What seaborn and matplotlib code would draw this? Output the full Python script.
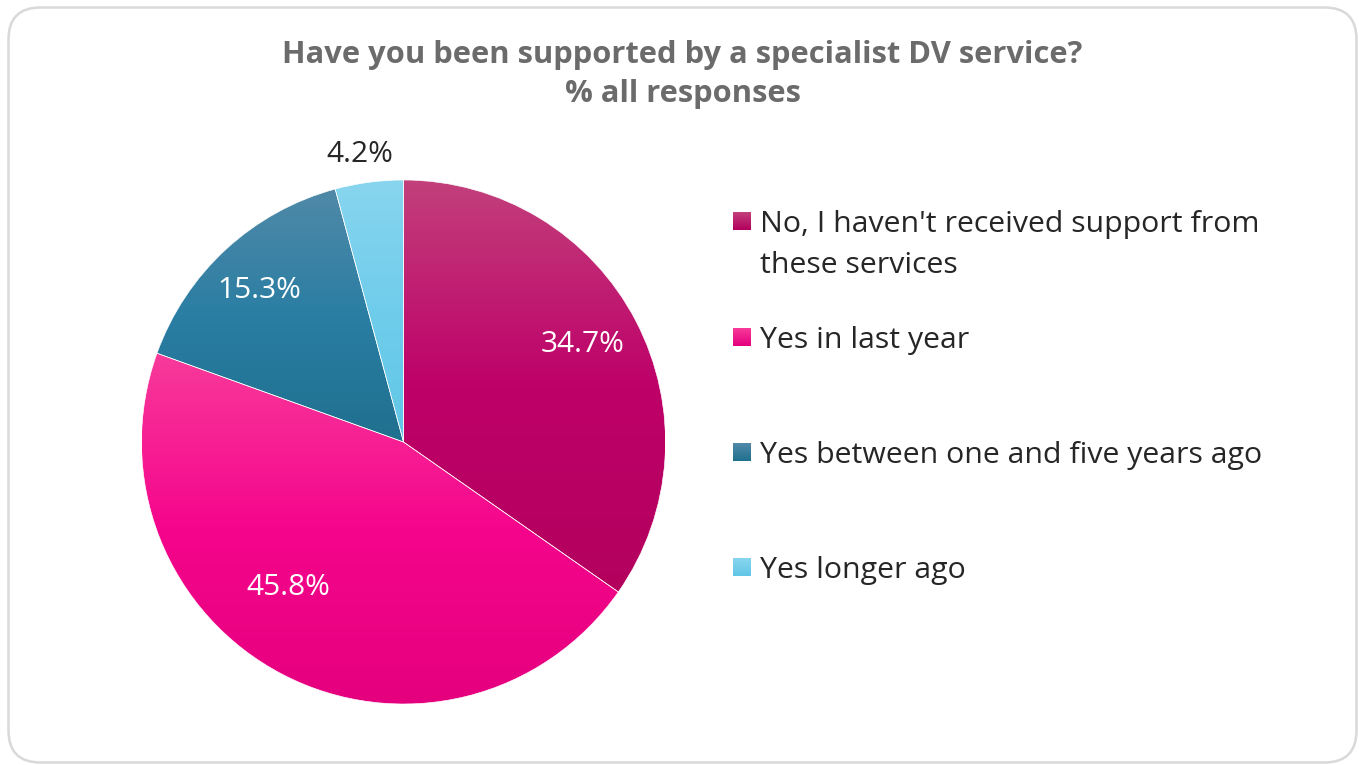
import numpy as np
import matplotlib
matplotlib.use("Agg")
import matplotlib.pyplot as plt
import seaborn as sns
from matplotlib.colors import LinearSegmentedColormap
from matplotlib.patches import FancyBboxPatch

# ---- data -------------------------------------------------------------
categories = [
    "No, I haven't received support from\nthese services",
    "Yes in last year",
    "Yes between one and five years ago",
    "Yes longer ago",
]
shares = [34.7, 45.8, 15.3, 4.2]
value_labels = ["34.7%", "45.8%", "15.3%", "4.2%"]
title_lines = ["Have you been supported by a specialist DV service?", "% all responses"]

# ---- styling ----------------------------------------------------------
base_colors = ["#BE0069", "#F5058C", "#2A7EA3", "#6FCDEB"]
top_colors = ["#C2407B", "#F83A9A", "#5089A8", "#88D5EF"]
bottom_colors = ["#B3005D", "#E5007E", "#20708F", "#62C6E6"]
label_colors = ["white", "white", "white", "#262626"]
label_radius = [0.78, 0.71, 0.80, 1.11]
label_turn = [1.0, -11.0, 1.0, 1.0]

W, H = 1359, 765
sns.set_theme(style="white")
plt.rcParams["font.family"] = ["Open Sans", "DejaVu Sans"]
palette = sns.color_palette(base_colors)

TITLE_PT, LEGEND_PT, LABEL_PT = 22.25, 21.8, 21.5
CAP = 0.714  # cap height as fraction of the em


def px(pt):
    return pt * 100 / 72.0


fig = plt.figure(figsize=(W / 100, H / 100), dpi=100)
fig.patch.set_facecolor("white")

# Pixel-space overlay for frame, title and legend
bg = fig.add_axes([0, 0, 1, 1], zorder=0)
bg.set_xlim(0, W)
bg.set_ylim(H, 0)
bg.axis("off")
bg.add_patch(FancyBboxPatch((8.5, 7.5), 1348, 755,
                            boxstyle="round,pad=0,rounding_size=32",
                            facecolor="white", edgecolor="#D9D9D9", linewidth=1.8))

# title
for i, line in enumerate(title_lines):
    cap_mid = 51.5 + i * 39.5
    bg.text(682.5, cap_mid + CAP * px(TITLE_PT) / 2, line, ha="center", va="baseline",
            fontsize=TITLE_PT, fontweight="bold", color="#6B6B6B")

# ---- pie --------------------------------------------------------------
cx, cy, R = 403.5, 442, 262
ax = fig.add_axes([(cx - R) / W, (H - cy - R) / H, 2 * R / W, 2 * R / H], zorder=1)
wedges, _ = ax.pie(shares, colors=palette, startangle=90, counterclock=False,
                   radius=1, wedgeprops=dict(linewidth=0.45, edgecolor="white"))

for w, c_top, c_mid, c_bot in zip(wedges, top_colors, base_colors, bottom_colors):
    cmap = LinearSegmentedColormap.from_list("g", [(0, c_top), (0.5, c_mid), (1, c_bot)])
    ext = w.get_path().get_extents()
    grad = np.linspace(0, 1, 256).reshape(-1, 1)
    im = ax.imshow(grad, cmap=cmap, aspect="auto", origin="upper",
                   extent=[ext.x0, ext.x1, ext.y0, ext.y1], zorder=1.5,
                   interpolation="bilinear")
    im.set_clip_path(w)
    w.set_facecolor("none")
    w.set_zorder(2)

ax.set_xlim(-1, 1)
ax.set_ylim(-1, 1)
ax.set_aspect("auto")
ax.axis("off")

for w, lab, col, rr, turn in zip(wedges, value_labels, label_colors, label_radius, label_turn):
    ang = np.deg2rad((w.theta1 + w.theta2) / 2 + turn)
    ax.text(rr * np.cos(ang), rr * np.sin(ang), lab, ha="center", va="center",
            fontsize=LABEL_PT, color=col, clip_on=False, zorder=3)

# ---- legend -----------------------------------------------------------
legend_rows = [221, 337, 452, 567]
for cat, c_top, c_bot, row in zip(categories, top_colors, bottom_colors, legend_rows):
    cmap = LinearSegmentedColormap.from_list("m", [c_top, c_bot])
    bg.imshow(np.linspace(0, 1, 32).reshape(-1, 1), cmap=cmap, aspect="auto",
              extent=[733, 751, row + 9, row - 9], origin="upper", zorder=2)
    for j, line in enumerate(cat.split("\n")):
        y = row + j * 41 + CAP * px(LEGEND_PT) / 2
        bg.text(760, y, line, ha="left", va="baseline", fontsize=LEGEND_PT, color="#262626")

bg.set_xlim(0, W)
bg.set_ylim(H, 0)

fig.savefig("out.png", dpi=100, facecolor="white")
